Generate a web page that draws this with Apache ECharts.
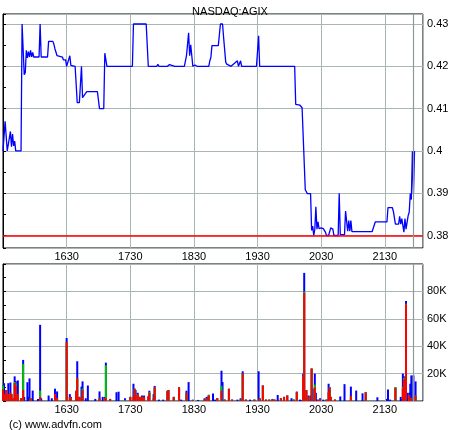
<!DOCTYPE html>
<html>
<head>
<meta charset="utf-8">
<title>NASDAQ:AGIX</title>
<script src="https://cdn.jsdelivr.net/npm/echarts@6/dist/echarts.min.js"></script>
<style>
  html, body { margin: 0; padding: 0; background: #fff; }
</style>
</head>
<body>
<div id="main" style="width: 460px;height:430px;"></div>
<script>
// price trades (UK time)
var priceTimes = [
  '15:30','15:32','15:34','15:37','15:38','15:39','15:40','15:41','15:42','15:47',
  '15:48','15:50','15:51','15:52','15:53','15:54','15:55','15:56','15:57','15:58',
  '15:59','16:04','16:05','16:06','16:12','16:13','16:17','16:18','16:19','16:21',
  '16:26','16:27','16:29','16:30','16:33','16:34','16:38','16:40','16:42','16:44',
  '16:45','16:46','16:49','16:59','17:01','17:05','17:06','17:08','17:32','17:33',
  '17:45','17:47','17:55','17:56','17:57','18:03','18:04','18:05','18:07','18:08',
  '18:12','18:13','18:14','18:21','18:23','18:25','18:26','18:27','18:28','18:29',
  '18:31','18:33','18:44','18:45','18:46','18:47','18:53','18:55','18:57','18:58',
  '19:00','19:01','19:05','19:11','19:12','19:14','19:15','19:29','19:31','19:32',
  '20:05','20:06','20:10','20:12','20:13','20:15','20:17','20:20','20:21','20:22',
  '20:23','20:24','20:25','20:26','20:27','20:28','20:30','20:32','20:34','20:35',
  '20:37','20:39','20:41','20:42','20:46','20:47','20:48','20:52','20:53','20:54',
  '20:55','20:56','20:57','20:58','20:59','21:18','21:21','21:32','21:33','21:37',
  '21:38','21:40','21:43','21:44','21:45','21:46','21:48','21:49','21:50','21:52',
  '21:53','21:54','21:55','21:56','21:57','21:58'
];
var priceValues = [
  0.400,0.407,0.400,0.4046,0.401,0.404,0.4012,0.4023,0.400,0.400,
  0.430,0.418,0.4185,0.4238,0.422,0.4235,0.4222,0.4238,0.4222,0.4233,
  0.4222,0.4222,0.430,0.4222,0.4222,0.4259,0.4259,0.4252,0.4241,0.4225,
  0.4222,0.4215,0.4215,0.420,0.4225,0.4202,0.420,0.4114,0.4114,0.420,
  0.4126,0.4126,0.414,0.414,0.410,0.410,0.4231,0.420,0.420,0.430,
  0.430,0.420,0.420,0.4205,0.420,0.420,0.4204,0.420,0.4204,0.420,
  0.420,0.4203,0.420,0.420,0.4225,0.4279,0.4225,0.4251,0.4225,0.420,
  0.4203,0.420,0.420,0.4213,0.4221,0.4249,0.4249,0.430,0.430,0.4268,
  0.421,0.4205,0.420,0.4213,0.420,0.4213,0.420,0.420,0.4272,0.420,
  0.420,0.411,0.4108,0.4102,0.4102,0.3908,0.3899,0.3899,0.3812,0.3822,
  0.380,0.3815,0.3868,0.3815,0.3832,0.3816,0.3818,0.3816,0.3808,0.380,
  0.380,0.3818,0.3815,0.380,0.380,0.390,0.3802,0.3802,0.3858,0.3858,
  0.381,0.3835,0.381,0.3835,0.3809,0.3809,0.3832,0.3832,0.3866,0.3866,
  0.3858,0.3827,0.3827,0.3845,0.3827,0.384,0.3808,0.384,0.3815,0.3847,
  0.3855,0.3899,0.3885,0.3999,0.390,0.400
];
var refPrice = 0.38;
var markTime = '21:57';

// volume in thousands, split red / green / blue
var volTimes = [
  '15:30','15:31','15:33','15:35','15:37','15:38','15:40','15:41','15:42','15:44',
  '15:47','15:49','15:50','15:53','15:54','15:55','15:56','15:58','16:03','16:05',
  '16:06','16:13','16:16','16:19','16:21','16:30','16:33','16:34','16:39','16:40',
  '16:42','16:44','16:45','16:48','16:50','16:57','17:01','17:04','17:06','17:07',
  '17:11','17:17','17:19','17:25','17:30','17:33','17:34','17:35','17:37','17:39',
  '17:41','17:43','17:47','17:48','17:52','17:53','17:57','18:01','18:05','18:06',
  '18:11','18:16','18:18','18:23','18:25','18:29','18:34','18:40','18:41','18:42',
  '18:43','18:44','18:48','18:50','18:52','18:56','18:57','18:59','19:03','19:06',
  '19:11','19:14','19:16','19:19','19:23','19:27','19:31','19:32','19:35','19:38',
  '19:41','19:44','19:46','19:49','19:52','19:55','19:58','20:02','20:04','20:07',
  '20:10','20:11','20:13','20:14','20:16','20:18','20:20','20:21','20:22','20:24',
  '20:25','20:27','20:29','20:32','20:35','20:37','20:38','20:39','20:43','20:48',
  '20:52','20:58','21:03','21:09','21:12','21:23','21:32','21:33','21:35','21:40',
  '21:45','21:46','21:47','21:48','21:49','21:50','21:51','21:53','21:54','21:55',
  '21:57','21:59'
];
var volRed = [
  8.6,5,8,5,6,5,2,13,11,5,
  2,8,0,0,0,0,2,0,0,3,
  0,0,0,5,2,43,3,2,7,16.7,
  3,2,8,0,0,0,2,0,2,2,
  1.5,0,0,0,3,3,9,4,5,3,
  3,3,3,6,2,10,0,0,7,8,
  3,10,0,6,0,0.5,0,1,1,2,
  0,4,0,0,2,7.6,0,1,8.9,1,
  0,1,20,1,0,1,0,2,11.3,1,
  1,1,1,0,2,3,4,0,1,6.4,
  0,0,18,79,8,3,0,23.7,0,10,
  0,1,1,0,1,6.4,10,3,1,0,
  0,3.5,0,0,6.4,0,0,0,0,9.3,
  0,0,9.3,16,0,70.5,0,4,0,2,
  0,4
];
var volGreen = [
  2.7,0,0,0,0,0,0,1,1.5,0,
  0,19,0,0,0,0,0,0,0,4.6,
  0,0,0,0,0,0,0,0,0,0,
  0,0,1,0,0,0,0,0,0,24,
  0,0,0,0.5,0,0,0,0,0,0,
  0,0,0,0.5,0,0,0,0,0,0,
  0,0,0,0,0,0,0,0,0,0,
  0,0.5,0,0,0,3.5,0,0,0,0,
  0,0,0,0,0,0,0,0,0,0,
  0,0,0,0,0,0,0,0,0,0,
  0,0,0,1,0,0,0,0,0,2,
  0,0,0,0,0,0,0,0,0,0,
  0,0,0,0,0,0,0,0,0,0.8,
  0,0,1,1,0,0.5,0,0,0,0,
  0,0
];
var volBlue = [
  0,8,0,8,7.5,0,0,4,2,10,
  0,3,3,13.7,3,16.5,0,7.6,1.5,48,
  2,4,2,4,5,3,2,1,0.6,12.3,
  0,8.5,5.3,2,11.3,1.5,5,3,1,2,
  0,6.4,6.8,1.5,0,9.6,0,4,1,0,
  1,1,0.5,1,3,1,1,1,0.5,0,
  0,0,1,1.5,13.8,0.5,0.8,1,0,1,
  3,0,5.4,1,0,11,13.8,0,0,0,
  1,1,1.7,0,1,0,21.7,0,0,0,
  0,0.5,0,4.4,0,0,0,2,0,0.5,
  1,0.5,2,13.5,0,1,4,0,9,8,
  6,0,1,1,0,6.2,0,0,0,3.3,
  12.3,7,7.6,5.6,0,2.7,1.5,8.4,1,0,
  3,1.5,9.7,1,8.6,2,6,2,12.6,16.7,
  18.7,10.3
];

var hourLabels = ['1630','1730','1830','1930','2030','2130'];

// minutes after 15:30
function toMin(t) {
  var p = t.split(':');
  return (+p[0]) * 60 + (+p[1]) - 930;
}
function pairs(times, vals, scale) {
  var res = [];
  for (var i = 0; i < times.length; i++) {
    res.push([toMin(times[i]), vals[i] * scale]);
  }
  return res;
}
// running totals so that red sits at the bottom, then green, then blue
function sumArrays() {
  var lists = arguments, out = [];
  for (var i = 0; i < lists[0].length; i++) {
    var s = 0;
    for (var k = 0; k < lists.length; k++) s += lists[k][i];
    out.push(s);
  }
  return out;
}
function timeLabel(v) {
  if (v % 60 !== 0 || v <= 0 || v > 360) return '';
  return hourLabels[v / 60 - 1];
}

var gridColor = '#aab6b6';
var fontFam = '"Liberation Sans", Arial, sans-serif';

function xAxisFor(idx) {
  return {
    type: 'value', gridIndex: idx, min: 0, max: 396, interval: 60,
    axisLine: { show: false },
    axisTick: { show: false },
    axisLabel: {
      formatter: timeLabel, color: '#000', fontSize: 11, fontFamily: fontFam,
      margin: 3, showMinLabel: false, showMaxLabel: false
    },
    splitLine: { show: true, lineStyle: { color: gridColor, width: 1 } }
  };
}

var myChart = echarts.init(document.getElementById('main'), null, { renderer: 'canvas' });
var markLineStyle = { color: '#8e9a9a', width: 1.2, type: 'solid' };

var option = {
  animation: false,
  backgroundColor: '#fff',
  textStyle: { fontFamily: fontFam },
  title: [
    {
      text: 'NASDAQ:AGIX', left: 'center', top: 1,
      textStyle: { fontSize: 11, fontWeight: 'normal', color: '#000', fontFamily: fontFam }
    },
    {
      text: '(c) www.advfn.com', left: 4, top: 414,
      textStyle: { fontSize: 11, fontWeight: 'normal', color: '#000', fontFamily: fontFam }
    }
  ],
  grid: [
    { left: 3, top: 14, width: 420, height: 234, show: true, borderColor: '#000', borderWidth: 1, backgroundColor: '#fff' },
    { left: 3, top: 264, width: 420, height: 137, show: true, borderColor: '#000', borderWidth: 1, backgroundColor: '#fff' }
  ],
  xAxis: [xAxisFor(0), xAxisFor(1)],
  yAxis: [
    {
      type: 'value', gridIndex: 0, position: 'right',
      min: 0.37704, max: 0.43237, splitNumber: 5,
      axisLine: { show: true, lineStyle: { color: '#000' } },
      axisTick: { show: true, length: 3, lineStyle: { color: '#000' } },
      minorTick: { show: true, splitNumber: 2, length: 3, lineStyle: { color: '#000' } },
      axisLabel: {
        color: '#000', fontSize: 11, fontFamily: fontFam, margin: 4,
        showMinLabel: false, showMaxLabel: false,
        formatter: function (v) { return String(Math.round(v * 100) / 100); }
      },
      splitLine: { show: true, lineStyle: { color: gridColor, width: 1 } }
    },
    {
      type: 'value', gridIndex: 1, position: 'right',
      min: 0, max: 100000, interval: 20000,
      axisLine: { show: true, lineStyle: { color: '#000' } },
      axisTick: { show: true, length: 3, lineStyle: { color: '#000' } },
      minorTick: { show: true, splitNumber: 2, length: 3, lineStyle: { color: '#000' } },
      axisLabel: {
        color: '#000', fontSize: 11, fontFamily: fontFam, margin: 4,
        showMinLabel: false, showMaxLabel: false,
        formatter: function (v) { return (v / 1000) + 'K'; }
      },
      splitLine: { show: true, lineStyle: { color: gridColor, width: 1 } }
    }
  ],
  series: [
    {
      type: 'line', xAxisIndex: 0, yAxisIndex: 0,
      data: pairs(priceTimes, priceValues, 1),
      showSymbol: false, symbol: 'none',
      lineStyle: { color: '#0000ff', width: 1.3 },
      markLine: {
        silent: true, symbol: 'none', label: { show: false },
        data: [
          { yAxis: refPrice, lineStyle: { color: '#ff0000', width: 1.6, type: 'solid' } },
          { xAxis: toMin(markTime), lineStyle: markLineStyle }
        ]
      },
      z: 3
    },
    {
      // total (blue on top)
      type: 'bar', xAxisIndex: 1, yAxisIndex: 1, barGap: '-100%',
      data: pairs(volTimes, sumArrays(volRed, volGreen, volBlue), 1000), barWidth: 2,
      itemStyle: { color: '#0000ff' }, z: 2,
      markLine: {
        silent: true, symbol: 'none', label: { show: false },
        data: [{ xAxis: toMin(markTime), lineStyle: markLineStyle }]
      }
    },
    {
      type: 'bar', xAxisIndex: 1, yAxisIndex: 1, barGap: '-100%',
      data: pairs(volTimes, sumArrays(volRed, volGreen), 1000), barWidth: 2,
      itemStyle: { color: '#00c000' }, z: 3
    },
    {
      type: 'bar', xAxisIndex: 1, yAxisIndex: 1, barGap: '-100%',
      data: pairs(volTimes, volRed, 1000), barWidth: 2,
      itemStyle: { color: '#ff0000' }, z: 4
    }
  ]
};
myChart.setOption(option);
</script>
</body>
</html>
